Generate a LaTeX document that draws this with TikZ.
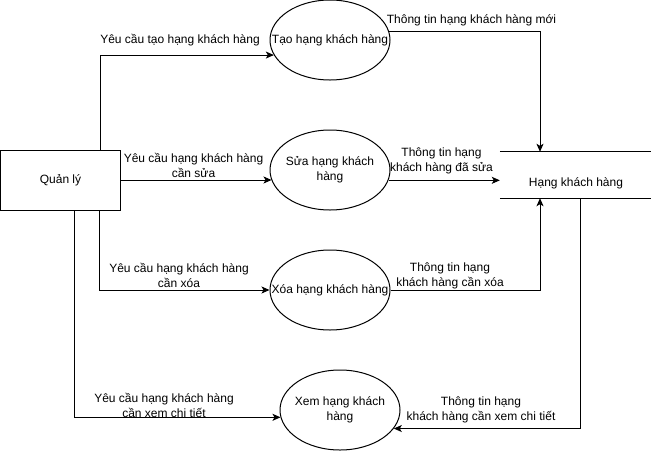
\documentclass[tikz,border=0pt]{standalone}
\usepackage{fontspec}
\setmainfont{Liberation Sans}
\usetikzlibrary{shapes.geometric,arrows.meta}
\begin{document}
\begin{tikzpicture}[x=1pt,y=1pt,
  every node/.style={font=\fontsize{12}{15}\selectfont, text=black},
  proc/.style={ellipse, draw, line width=1pt, minimum width=120pt, minimum height=80pt, inner sep=0pt},
  ent/.style={rectangle, draw, line width=1pt, minimum width=120pt, minimum height=60pt, inner sep=0pt},
  store/.style={rectangle, minimum width=152pt, minimum height=46pt, inner sep=0pt},
  arr/.style={line width=1pt, -{Stealth[length=8pt,width=7pt,inset=2pt]}},
  lbl/.style={align=center, inner sep=0pt},
]
\useasboundingbox (0,0) rectangle (651,-451);
\node[ent] (ql) at (60.5,-180) {Quản lý};
\node[proc, label={[lbl]center:Tạo hạng khách hàng}] (tao) at (330,-40) {};
\node[proc, label={[lbl]center:{Sửa hạng khách\\hàng}}] (sua) at (330,-170) {};
\node[proc, label={[lbl]center:Xóa hạng khách hàng}] (xoa) at (330,-290) {};
\node[proc, label={[lbl]center:{Xem hạng khách\\hàng}}] (xem) at (340,-410) {};
\node[store] (hkh) at (576,-175) {};
\draw[line width=1pt] (hkh.north west) -- (hkh.north east) (hkh.south west) -- (hkh.south east);
\node (hkht) at ([yshift=-8]hkh.center) {Hạng khách hàng};

\draw[arr] ([xshift=40]ql.north) |- (tao.195);
\draw[arr] (ql.east) -- (ql.east -| sua.190);
\draw[arr] ([xshift=39]ql.south) |- (xoa.west);
\draw[arr] ([xshift=14]ql.south) |- (xem.187);
\draw[arr] (tao.8) -| ([xshift=-36]hkh.north);
\draw[arr] (sua.-10) -- (sua.-10 -| hkh.west);
\draw[arr] (xoa.east) -| ([xshift=-36]hkh.south);
\draw[arr] ([xshift=4]hkh.south) |- (xem.-19);

\node[lbl] (l1) at (180,-40) {Yêu cầu tạo hạng khách hàng};
\node[lbl] (l2) at (193.5,-165.5) {Yêu cầu hạng khách hàng\\cần sửa};
\node[lbl] (l3) at (179,-275.5) {Yêu cầu hạng khách hàng\\cần xóa};
\node[lbl] (l4) at (164,-405.5) {Yêu cầu hạng khách hàng\\cần xem chi tiết};
\node[lbl] (l5) at (471.5,-20) {Thông tin hạng khách hàng mới};
\node[lbl] (l6) at (441.5,-161) {Thông tin hạng\\khách hàng đã sửa};
\node[lbl] (l7) at (450,-275.5) {Thông tin hạng\\khách hàng cần xóa};
\node[lbl] (l8) at (481,-410) {Thông tin hạng\\khách hàng cần xem chi tiết};
\end{tikzpicture}
\end{document}
